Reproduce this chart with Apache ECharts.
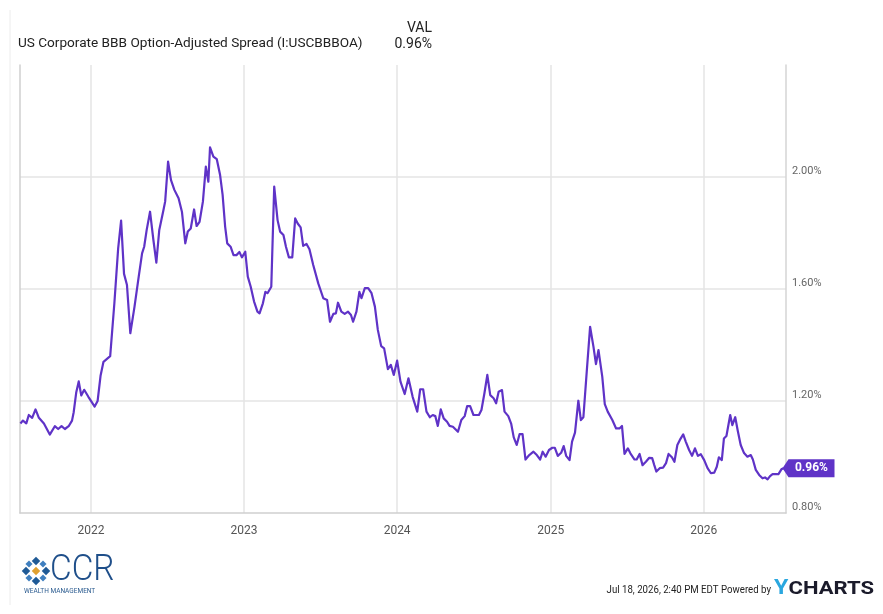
<!DOCTYPE html>
<html>
<head>
<meta charset="utf-8">
<script src="https://cdn.jsdelivr.net/npm/echarts@6/dist/echarts.min.js"></script>
<style>
html,body{margin:0;padding:0;background:#fff;}
#chart{width:883px;height:614px;}
</style>
</head>
<body>
<div id="chart"></div>
<script>
// ---- Data: US Corporate BBB Option-Adjusted Spread (%) ----
const seriesName = 'US Corporate BBB Option-Adjusted Spread (I:USCBBBOA)';
const d2021 = ['2021-07-17','2021-07-23','2021-07-31','2021-08-06','2021-08-14','2021-08-22','2021-08-30','2021-09-11','2021-09-25','2021-10-07','2021-10-15','2021-10-23','2021-10-31','2021-11-09','2021-11-17','2021-11-21','2021-11-27','2021-12-03','2021-12-09','2021-12-16','2021-12-26'];
const v2021 = [1.12,1.13,1.12,1.15,1.14,1.17,1.14,1.12,1.08,1.11,1.10,1.11,1.10,1.11,1.13,1.16,1.23,1.27,1.22,1.24,1.215];
const d2022 = ['2022-01-10','2022-01-17','2022-01-24','2022-01-31','2022-02-16','2022-02-26','2022-03-07','2022-03-14','2022-03-21','2022-03-28','2022-04-05','2022-04-15','2022-04-25','2022-05-03','2022-05-08','2022-05-14','2022-05-22','2022-05-30','2022-06-06','2022-06-13','2022-06-23','2022-06-27','2022-07-04','2022-07-11','2022-07-19','2022-07-29','2022-08-06','2022-08-14','2022-08-20','2022-08-27','2022-09-04','2022-09-10','2022-09-17','2022-09-25','2022-10-02','2022-10-08','2022-10-12','2022-10-20','2022-10-28','2022-11-05','2022-11-11','2022-11-17','2022-11-22','2022-11-30','2022-12-07','2022-12-14','2022-12-21','2022-12-27'];
const v2022 = [1.18,1.20,1.29,1.34,1.36,1.55,1.745,1.844,1.654,1.614,1.442,1.537,1.644,1.727,1.751,1.811,1.876,1.775,1.694,1.811,1.882,1.912,2.055,1.989,1.954,1.924,1.876,1.763,1.805,1.816,1.884,1.825,1.84,1.912,2.037,1.983,2.106,2.073,2.064,2.007,1.936,1.823,1.763,1.751,1.721,1.721,1.732,1.713];
const d2023 = ['2023-01-04','2023-01-10','2023-01-17','2023-01-25','2023-02-02','2023-02-07','2023-02-15','2023-02-21','2023-02-26','2023-03-07','2023-03-14','2023-03-22','2023-03-28','2023-04-05','2023-04-11','2023-04-18','2023-04-26','2023-05-03','2023-05-09','2023-05-16','2023-05-22','2023-05-30','2023-06-06','2023-06-15','2023-06-27','2023-07-09','2023-07-18','2023-07-25','2023-08-02','2023-08-08','2023-08-13','2023-08-21','2023-08-29','2023-09-06','2023-09-13','2023-09-18','2023-09-26','2023-10-03','2023-10-08','2023-10-16','2023-10-24','2023-11-01','2023-11-09','2023-11-16','2023-11-24','2023-12-01','2023-12-10','2023-12-17','2023-12-24'];
const v2023 = [1.733,1.644,1.608,1.555,1.519,1.513,1.549,1.59,1.585,1.608,1.966,1.846,1.805,1.793,1.751,1.713,1.713,1.852,1.834,1.82,1.754,1.761,1.742,1.686,1.62,1.567,1.561,1.483,1.511,1.513,1.551,1.519,1.511,1.519,1.507,1.483,1.519,1.59,1.567,1.603,1.603,1.585,1.537,1.454,1.396,1.388,1.314,1.329,1.293];
const d2024 = ['2024-01-01','2024-01-09','2024-01-19','2024-01-28','2024-02-07','2024-02-18','2024-02-25','2024-03-03','2024-03-11','2024-03-19','2024-03-26','2024-04-01','2024-04-07','2024-04-14','2024-04-21','2024-04-29','2024-05-05','2024-05-13','2024-05-25','2024-06-02','2024-06-10','2024-06-16','2024-06-23','2024-07-01','2024-07-14','2024-07-20','2024-07-27','2024-08-03','2024-08-10','2024-08-18','2024-08-24','2024-08-30','2024-09-07','2024-09-13','2024-09-22','2024-09-29','2024-10-05','2024-10-12','2024-10-19','2024-10-26','2024-11-02','2024-11-11','2024-11-21','2024-11-29','2024-12-07','2024-12-13','2024-12-20','2024-12-28'];
const v2024 = [1.344,1.269,1.225,1.281,1.215,1.162,1.242,1.242,1.162,1.142,1.15,1.146,1.111,1.17,1.138,1.126,1.111,1.108,1.09,1.132,1.146,1.182,1.182,1.15,1.15,1.168,1.227,1.293,1.221,1.21,1.192,1.233,1.239,1.162,1.146,1.118,1.07,1.043,1.082,1.082,0.991,1.007,1.019,1.007,0.991,1.019,1.001,1.025];
const d2025 = ['2025-01-05','2025-01-11','2025-01-18','2025-01-26','2025-02-01','2025-02-07','2025-02-15','2025-02-21','2025-02-28','2025-03-08','2025-03-14','2025-03-20','2025-03-28','2025-04-05','2025-04-13','2025-04-19','2025-04-25','2025-05-04','2025-05-10','2025-05-17','2025-05-28','2025-06-06','2025-06-14','2025-06-20','2025-06-26','2025-07-04','2025-07-10','2025-07-20','2025-07-25','2025-08-01','2025-08-08','2025-08-16','2025-08-24','2025-08-31','2025-09-05','2025-09-10','2025-09-18','2025-09-26','2025-10-03','2025-10-09','2025-10-17','2025-10-23','2025-10-30','2025-11-05','2025-11-13','2025-11-19','2025-11-27','2025-12-04','2025-12-11','2025-12-18','2025-12-25'];
const v2025 = [1.033,1.033,1.004,1.015,1.039,1.004,0.989,1.055,1.087,1.201,1.132,1.142,1.305,1.465,1.394,1.332,1.382,1.287,1.189,1.162,1.132,1.102,1.102,1.111,1.011,1.031,1.013,0.991,0.991,1.011,0.971,0.983,0.997,0.996,0.971,0.948,0.96,0.962,0.978,1.011,0.999,0.983,1.043,1.061,1.081,1.055,1.025,1.004,1.031,1.004,1.01];
const d2026 = ['2026-01-02','2026-01-10','2026-01-18','2026-01-26','2026-02-01','2026-02-06','2026-02-13','2026-02-18','2026-02-24','2026-03-05','2026-03-10','2026-03-17','2026-03-23','2026-03-30','2026-04-07','2026-04-15','2026-04-23','2026-04-28','2026-05-05','2026-05-13','2026-05-21','2026-05-27','2026-06-02','2026-06-08','2026-06-14','2026-06-22','2026-06-28','2026-07-05','2026-07-10'];
const v2026 = [0.989,0.96,0.942,0.944,0.965,0.999,0.989,1.066,1.075,1.15,1.114,1.142,1.094,1.043,1.014,1.001,1.007,0.991,0.954,0.936,0.924,0.927,0.92,0.932,0.939,0.939,0.939,0.956,0.96];

const axisStart = '2021-07-16';
const axisEnd = '2026-07-16';
const yTicks = [0.8, 1.2, 1.6, 2.0];
const headerValueLabel = 'VAL';
const currentValue = 0.96;
const stampText = 'Jul 18, 2026, 2:40 PM EDT Powered by';

// ---- Build ----
const dates = [].concat(d2021, d2022, d2023, d2024, d2025, d2026);
const values = [].concat(v2021, v2022, v2023, v2024, v2025, v2026);
const data = dates.map((d, i) => [d, values[i]]);
const last = data[data.length - 1];

const purple = '#5f33c7';
const FONT = 'Roboto, "Noto Sans", sans-serif';

const chart = echarts.init(document.getElementById('chart'), null, {renderer: 'canvas'});

function diamond(cx, cy, s, color) {
  return {
    type: 'rect', x: cx, y: cy, rotation: Math.PI / 4, originX: 0, originY: 0,
    shape: {x: -s / 2, y: -s / 2, width: s, height: s},
    style: {fill: color}, silent: true
  };
}

const option = {
  backgroundColor: '#ffffff',
  animation: false,
  grid: {left: 20, right: 97, top: 65, bottom: 101, containLabel: false},
  xAxis: {
    type: 'time',
    min: axisStart,
    max: axisEnd,
    minInterval: 365 * 24 * 3600 * 1000,
    maxInterval: 366 * 24 * 3600 * 1000,
    axisLine: {show: true, lineStyle: {color: '#cfcfcf', width: 1.5}},
    axisTick: {show: false},
    axisLabel: {
      color: '#555', fontFamily: FONT, fontSize: 12, margin: 12,
      showMinLabel: false, showMaxLabel: false,
      formatter: function (v) { return String(new Date(v).getFullYear()); }
    },
    splitLine: {show: true, showMinLine: false, showMaxLine: false, lineStyle: {color: '#e4e4e4', width: 1.5}}
  },
  yAxis: [{
    type: 'value',
    position: 'right',
    min: 0.8,
    max: 2.4,
    interval: 0.4,
    axisLine: {show: true, lineStyle: {color: '#d4d4d4', width: 1.5}},
    axisTick: {show: false},
    axisLabel: {
      color: '#666', fontFamily: FONT, fontSize: 11, margin: 6,
      verticalAlign: 'bottom', showMaxLabel: false,
      formatter: function (v) { return yTicks.some(t => Math.abs(t - v) < 1e-6) ? v.toFixed(2) + '%' : ''; }
    },
    splitLine: {show: true, showMinLine: false, showMaxLine: false, lineStyle: {color: '#ebebeb', width: 2}}
  }, {
    type: 'value',
    position: 'left',
    min: 0.8,
    max: 2.4,
    interval: 0.4,
    axisLine: {show: true, lineStyle: {color: '#cfcfcf', width: 1.5}},
    axisTick: {show: false},
    axisLabel: {show: false},
    splitLine: {show: false}
  }],
  series: [{
    name: seriesName,
    type: 'line',
    data: data,
    showSymbol: false,
    symbol: 'none',
    lineStyle: {color: purple, width: 2.2, join: 'round'},
    clip: false,
    markPoint: {
      silent: true,
      symbol: 'path://M0,9 L6,0 L52,0 L52,18 L6,18 Z',
      symbolSize: [52, 18],
      symbolKeepAspect: false,
      symbolOffset: [25, 0],
      itemStyle: {color: purple},
      label: {
        show: true, position: 'inside', offset: [3, 0],
        color: '#fff', fontWeight: 'bold', fontSize: 12, fontFamily: FONT,
        formatter: function () { return last[1].toFixed(2) + '%'; }
      },
      data: [{coord: last, value: last[1]}]
    }
  }],
  graphic: [
    {type: 'line', shape: {x1: 10, y1: 10, x2: 10, y2: 605}, style: {stroke: '#ececec', lineWidth: 1}, silent: true},
    {type: 'text', x: 432, y: 28, style: {text: headerValueLabel, fill: '#222', font: '14px ' + FONT, textAlign: 'right', textVerticalAlign: 'middle'}},
    {type: 'text', x: 18, y: 44, style: {text: seriesName, fill: '#222', font: '13.6px ' + FONT, textAlign: 'left', textVerticalAlign: 'middle'}},
    {type: 'text', x: 432, y: 44, style: {text: currentValue.toFixed(2) + '%', fill: '#222', font: '14px ' + FONT, textAlign: 'right', textVerticalAlign: 'middle'}},
    // CCR logo
    diamond(36, 561, 6, '#1f5a96'),
    diamond(36, 581, 6, '#1f5a96'),
    diamond(26, 571, 6, '#1f5a96'),
    diamond(46, 571, 6, '#1f5a96'),
    diamond(29, 564, 5, '#3f7fbf'),
    diamond(43, 564, 5, '#3f7fbf'),
    diamond(29, 578, 5, '#3f7fbf'),
    diamond(43, 578, 5, '#3f7fbf'),
    diamond(36, 571, 6, '#e0a030'),
    {type: 'text', x: 50, y: 571, scaleX: 0.9, style: {text: 'CCR', fill: '#1f4f8a', font: '300 37px ' + FONT, textAlign: 'left', textVerticalAlign: 'middle'}},
    {type: 'text', x: 24, y: 591, style: {text: 'WEALTH MANAGEMENT', fill: '#2c5c90', font: '6.5px ' + FONT, textAlign: 'left', textVerticalAlign: 'middle'}},
    // Footer
    {type: 'text', x: 771, y: 590, scaleX: 0.84, style: {text: stampText, fill: '#222', font: '11.5px Roboto, sans-serif', textAlign: 'right', textVerticalAlign: 'middle'}},
    {type: 'text', x: 874, y: 589, scaleX: 1.16, style: {
      text: '{y|Y}{c|CHARTS}', textAlign: 'right', textVerticalAlign: 'middle',
      rich: {
        y: {fill: '#2aa7df', font: 'bold 20px ' + FONT},
        c: {fill: '#1b1b2b', font: 'bold 19px ' + FONT}
      }
    }}
  ]
};

chart.setOption(option);
</script>
</body>
</html>
